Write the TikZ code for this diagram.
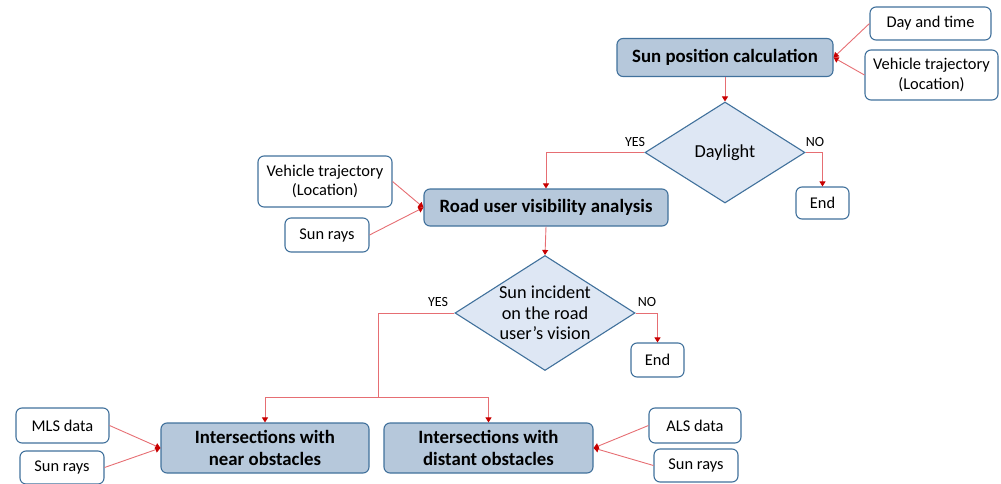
\documentclass[tikz,border=0pt]{standalone}
\usepackage{fontspec}
\setmainfont{Carlito}
\usetikzlibrary{arrows.meta,shapes.geometric}
\definecolor{bordercol}{RGB}{65,113,156}
\definecolor{mainfill}{RGB}{182,200,219}
\definecolor{decfill}{RGB}{222,231,244}
\definecolor{linecol}{RGB}{230,110,115}
\definecolor{tipcol}{RGB}{200,0,0}
\begin{document}
\begin{tikzpicture}[x=1pt,y=-1pt,
  mainbox/.style={draw=bordercol, fill=mainfill, rounded corners=6pt, line width=1.1pt,
    font=\bfseries\fontsize{18.8}{22}\selectfont, inner sep=0pt, align=center},
  inbox/.style={draw=bordercol, fill=white, rounded corners=6pt, line width=1.1pt,
    font=\fontsize{16.4}{19.5}\selectfont, inner sep=0pt, align=center},
  decbox/.style={diamond, draw=bordercol, fill=decfill, line width=1.1pt, inner sep=0pt},
  dectext/.style={font=\fontsize{18.3}{20.5}\selectfont, align=center, inner sep=0pt},
  lbl/.style={font=\fontsize{14}{15}\selectfont, inner sep=0pt},
  wire/.style={draw=linecol, line width=0.9pt},
  conn/.style={wire, -{Triangle[length=5pt,width=6pt,color=tipcol]}}
]
\useasboundingbox (0,0) rectangle (1001,484);

% top
\node[mainbox, minimum width=216, minimum height=38] (sun) at (725,57.5) {Sun position calculation};
\node[inbox, minimum width=121, minimum height=33] (day) at (930.5,23.5) {Day and time};
\node[inbox, minimum width=133, minimum height=50] (veh1) at (931.5,75) {Vehicle trajectory\\(Location)};

\node[decbox, minimum width=160, minimum height=101] (d1) at (725,152.5) {};
\node[dectext] (d1t) at (d1) {Daylight};
\node[inbox, minimum width=53, minimum height=32] (end1) at (822.5,203) {End};

\node[mainbox, minimum width=244, minimum height=37] (road) at (546,207.5) {Road user visibility analysis};
\node[inbox, minimum width=134, minimum height=51] (veh2) at (325,181.5) {Vehicle trajectory\\(Location)};
\node[inbox, minimum width=84, minimum height=34] (sr2) at (327,235) {Sun rays};

\node[decbox, minimum width=180, minimum height=115] (d2) at (545,313) {};
\node[dectext] (d2t) at (d2) {Sun incident\\on the road\\user’s vision};
\node[inbox, minimum width=53, minimum height=34] (end2) at (657.5,360) {End};

\node[mainbox, minimum width=208, minimum height=50] (near) at (265,448) {Intersections with\\near obstacles};
\node[mainbox, minimum width=209, minimum height=50] (dist) at (488.5,448) {Intersections with\\distant obstacles};
\node[inbox, minimum width=93, minimum height=35] (mls) at (62.5,425.5) {MLS data};
\node[inbox, minimum width=84, minimum height=33] (sr3) at (62,467.5) {Sun rays};
\node[inbox, minimum width=92, minimum height=35] (als) at (695,425.5) {ALS data};
\node[inbox, minimum width=84, minimum height=33] (sr4) at (696,465.5) {Sun rays};

% labels
\node[lbl] (yes1) at (635,142) {YES};
\node[lbl] (no1) at (815,142) {NO};
\node[lbl] (yes2) at (438,302) {YES};
\node[lbl] (no2) at (647,302) {NO};

% connectors
\draw[conn] (day.west) -- (sun.east);
\draw[conn] (veh1.west) -- (sun.east);
\draw[conn] (sun.south) -- (d1.north);
\draw[conn] (d1.west) -| (road.north);
\draw[conn] (d1.east) -| (end1.north);
\draw[conn] (veh2.east) -- (road.west);
\draw[conn] (sr2.east) -- (road.west);
\draw[conn] (road.south) -- (d2.north);
\draw[conn] (d2.east) -| (end2.north);
\coordinate (split) at (378,397);
\draw[wire] (d2.west) -| (split);
\draw[conn] (split) -| (near.north);
\draw[conn] (split) -| (dist.north);
\draw[conn] (mls.east) -- (near.west);
\draw[conn] (sr3.east) -- (near.west);
\draw[conn] (als.west) -- (dist.east);
\draw[conn] (sr4.west) -- (dist.east);
\end{tikzpicture}
\end{document}
